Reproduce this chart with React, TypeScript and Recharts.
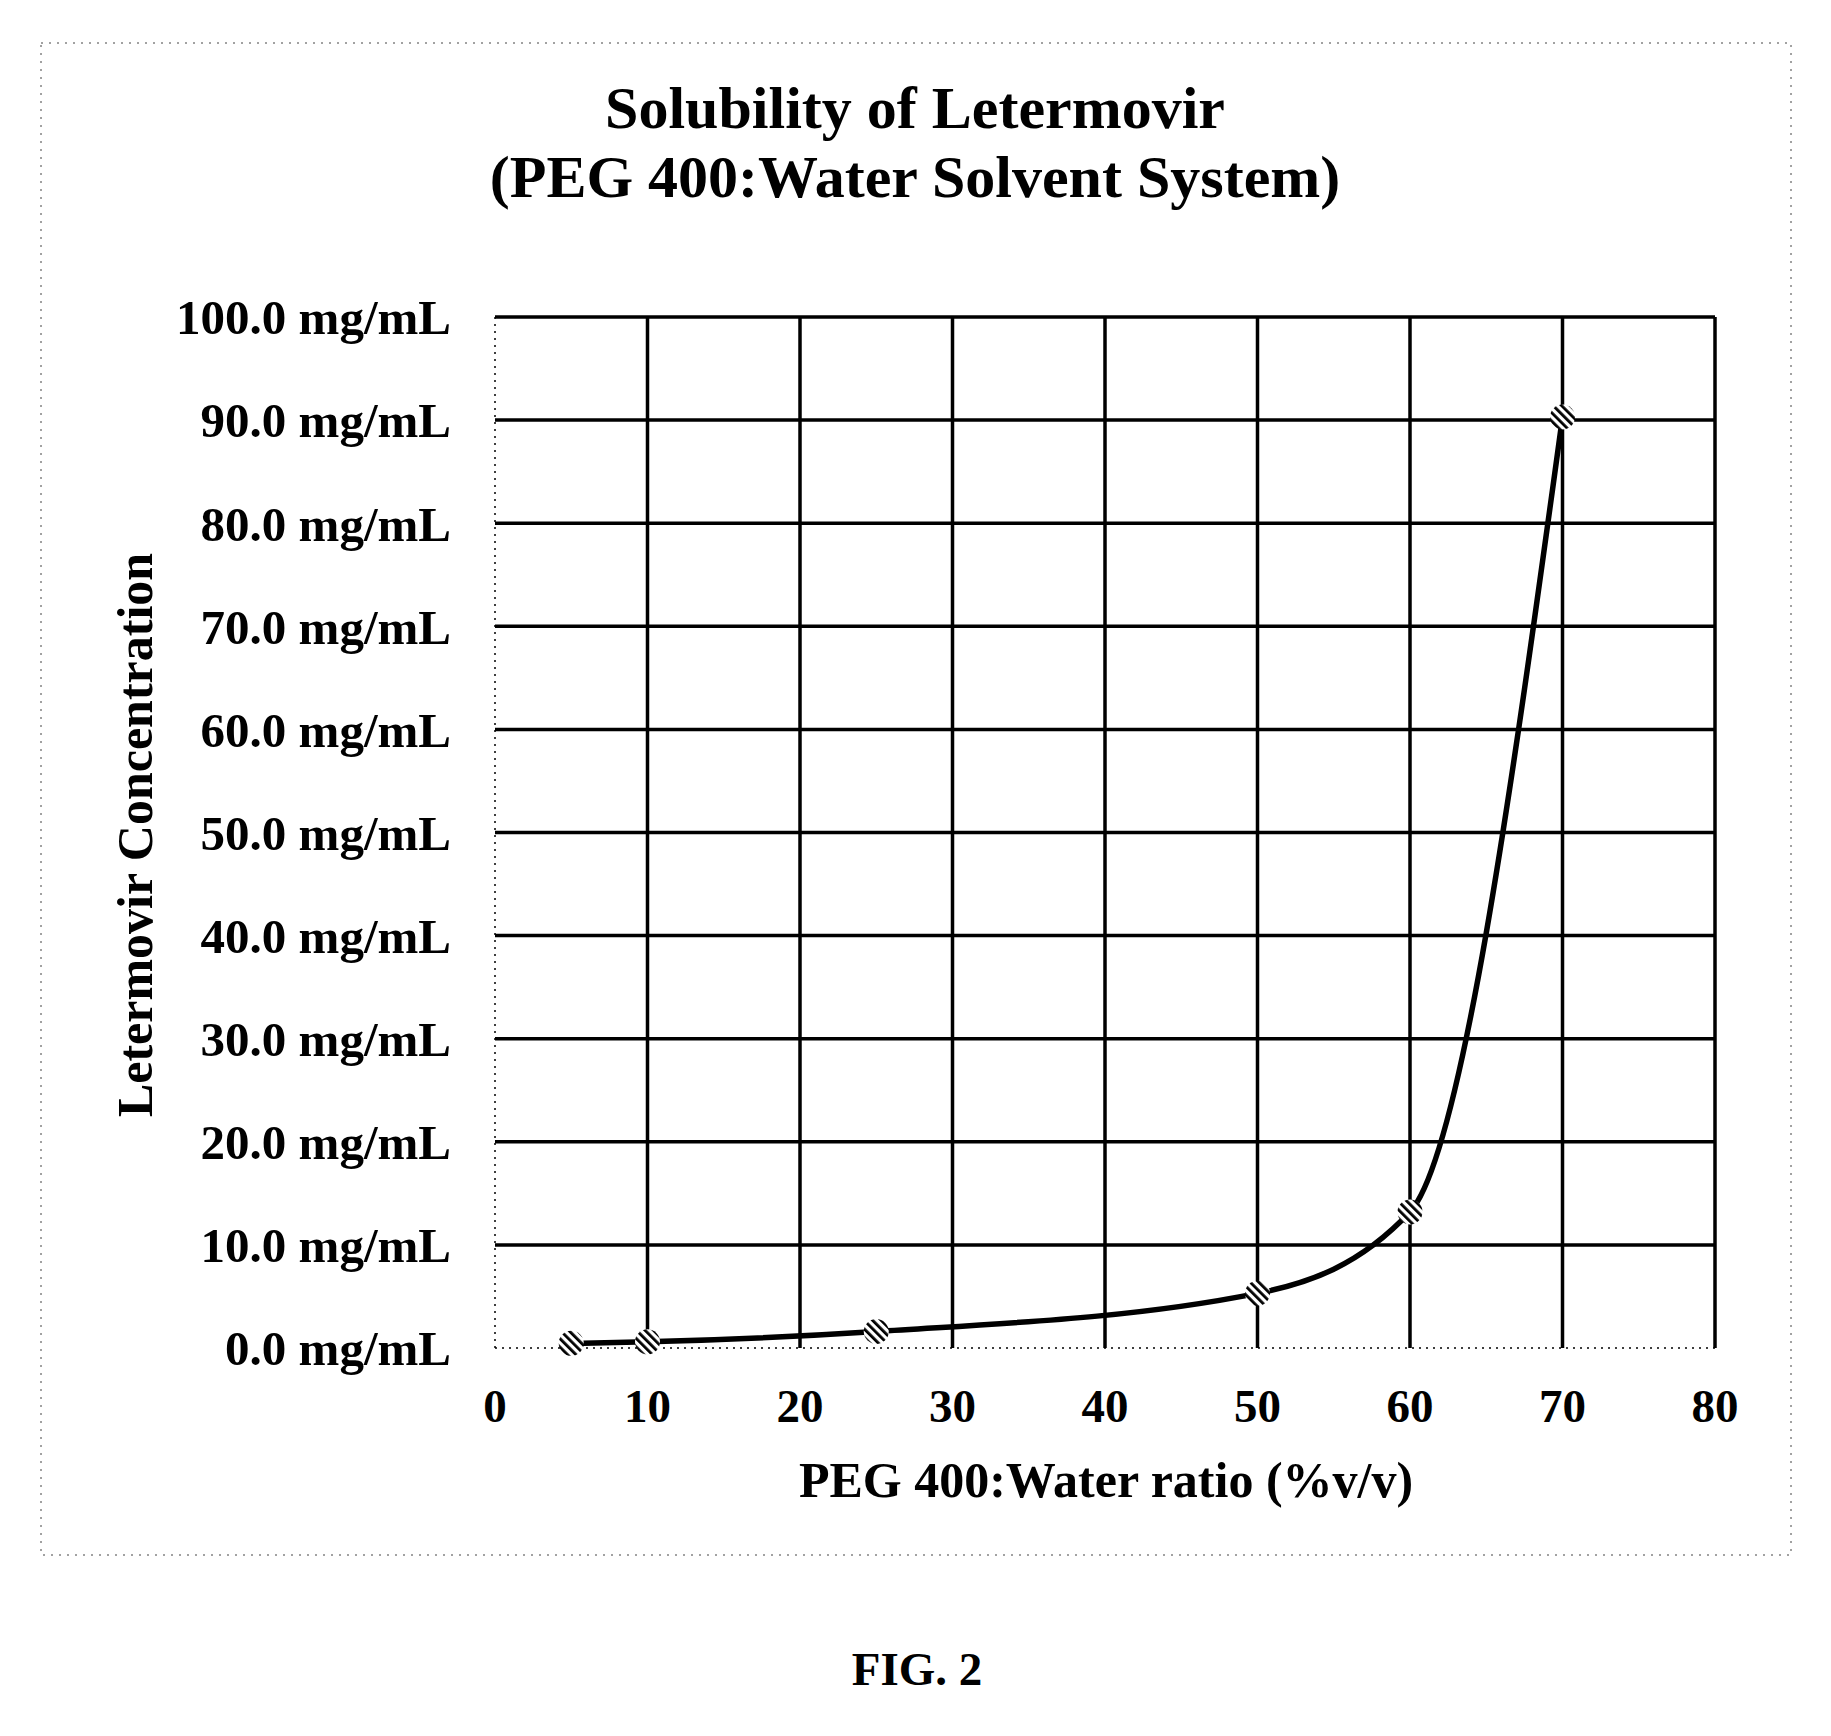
import { LineChart, Line, XAxis, YAxis, ReferenceLine } from 'recharts'

// PEG 400 content (%v/v) and measured letermovir solubility (mg/mL)
const pegRatio = [5, 10, 25, 50, 60, 70]
const concentration = [0.45, 0.6, 1.6, 5.3, 13.2, 90.3]

const xTicks = [0, 10, 20, 30, 40, 50, 60, 70, 80]
const yTicks = [0, 10, 20, 30, 40, 50, 60, 70, 80, 90, 100]

const titleLines = ['Solubility of Letermovir', '(PEG 400:Water Solvent System)']
const xTitle = 'PEG 400:Water ratio (%v/v)'
const yTitle = 'Letermovir Concentration'
const figLabel = 'FIG. 2'

const W = 1831
const H = 1736
const FONT = '"Liberation Serif", "Times New Roman", serif'

const data = pegRatio.map((ratio, i) => ({ ratio, conc: concentration[i] }))

// solid grid everywhere except the two axes, which stay dotted
const xGrid = xTicks.filter(v => v > 0)
const yGrid = yTicks.filter(v => v > 0)

function HatchDot(props: any) {
    const { cx, cy, index } = props
    if (cx == null || cy == null) return null
    return <circle key={`dot-${index}`} cx={cx} cy={cy} r={12.5} fill="url(#hatch)" />
}

export default function App() {
    const textStyle = { fontFamily: FONT, fontWeight: 700, fill: '#000' }
    return (
        <div style={{ position: 'absolute', left: 0, top: 0, width: W, height: H, background: '#fff' }}>
            <svg width={W} height={H} style={{ position: 'absolute', left: 0, top: 0 }}>
                <defs>
                    <pattern id="hatch" patternUnits="userSpaceOnUse" width={6} height={6} patternTransform="rotate(-45)">
                        <rect width={6} height={6} fill="#fff" />
                        <rect width={2.8} height={6} fill="#000" />
                    </pattern>
                </defs>
                <rect x={41} y={43} width={1750} height={1512} fill="none" stroke="#444" strokeWidth={1} strokeDasharray="2 6" />
                <text x={915} y={128} textAnchor="middle" fontSize={60} {...textStyle}>{titleLines[0]}</text>
                <text x={915} y={197} textAnchor="middle" fontSize={60} {...textStyle}>{titleLines[1]}</text>
                <text x={1106} y={1497} textAnchor="middle" fontSize={50} {...textStyle}>{xTitle}</text>
                <text transform="translate(152, 835) rotate(-90)" textAnchor="middle" fontSize={50} {...textStyle}>
                    {yTitle}
                </text>
                <text x={917} y={1685} textAnchor="middle" fontSize={47} {...textStyle}>{figLabel}</text>
            </svg>
            <div style={{ position: 'absolute', left: 0, top: 0 }}>
                <LineChart width={W} height={H} data={data} margin={{ top: 317, right: 116, bottom: 288, left: 0 }}>
                    <XAxis
                        type="number"
                        dataKey="ratio"
                        domain={[0, 80]}
                        ticks={xTicks}
                        interval={0}
                        height={100}
                        tickSize={0}
                        tickMargin={41}
                        tickLine={false}
                        axisLine={{ stroke: '#000', strokeWidth: 1.5, strokeDasharray: '2 5' }}
                        tick={{ fontFamily: FONT, fontWeight: 700, fontSize: 47, fill: '#000' }}
                    />
                    <YAxis
                        type="number"
                        dataKey="conc"
                        domain={[0, 100]}
                        ticks={yTicks}
                        interval={0}
                        width={495}
                        tickSize={0}
                        tickMargin={44}
                        tickLine={false}
                        axisLine={{ stroke: '#000', strokeWidth: 1.5, strokeDasharray: '2 5' }}
                        tickFormatter={(v: number) => `${v.toFixed(1)} mg/mL`}
                        tick={{ fontFamily: FONT, fontWeight: 700, fontSize: 49, fill: '#000' }}
                    />
                    {xGrid.map(v => (
                        <ReferenceLine key={`vx-${v}`} x={v} stroke="#000" strokeWidth={3.5} />
                    ))}
                    {yGrid.map(v => (
                        <ReferenceLine key={`hy-${v}`} y={v} stroke="#000" strokeWidth={3.5} />
                    ))}
                    <Line
                        type="monotone"
                        dataKey="conc"
                        stroke="#000"
                        strokeWidth={5.5}
                        dot={HatchDot}
                        activeDot={false}
                        isAnimationActive={false}
                    />
                </LineChart>
            </div>
        </div>
    )
}
